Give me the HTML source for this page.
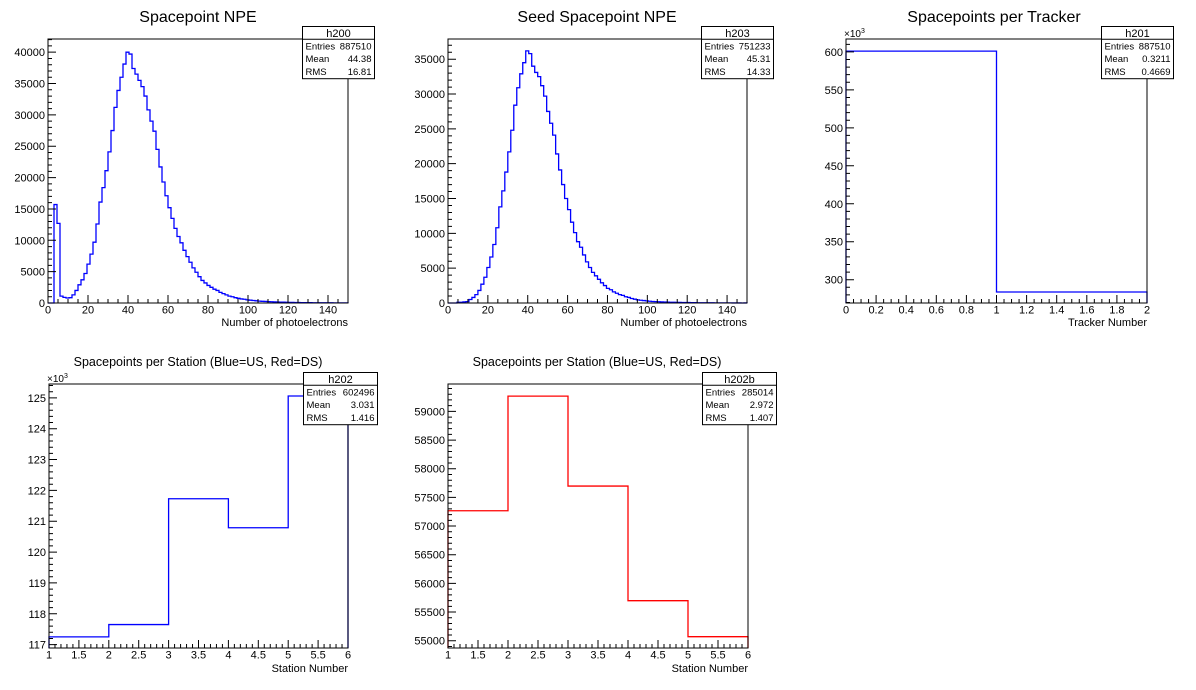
<!DOCTYPE html>
<html><head><meta charset="utf-8">
<style>
html,body{margin:0;padding:0;background:#fff;}
svg{display:block;font-family:"Liberation Sans",Arial,sans-serif;}
</style></head>
<body>
<svg id="c" width="1196" height="690" viewBox="0 0 1196 690" xmlns="http://www.w3.org/2000/svg"></svg>
<script>
// ---- data ----
const npeCounts = [0,0,15700,12700,1100,900,800,850,1300,2000,2900,3700,4700,6200,7800,9700,12600,16100,18400,21100,24100,27500,31200,33900,36000,38100,40000,39700,37400,36500,35500,34500,33000,30800,29000,27400,24500,21700,19300,17100,15200,13500,11900,10600,9600,8400,7400,6500,5600,4900,4200,3600,3200,2800,2500,2200,2000,1700,1500,1300,1100,1000,850,750,650,600,500,450,400,350,300,270,250,220,200,180,160,140,130,110,100,90,80,70,60,60,50,50,40,40,40,30,30,30,30,20,20,20,20,20];
const seedNpeCounts = [0,0,0,100,100,150,200,500,800,1200,1800,2700,3700,5100,6600,8400,10800,13800,16100,18800,21700,24800,28400,30900,32900,34500,36200,35800,34000,33100,32500,31200,29700,27500,25800,24100,21400,19100,17000,15000,13400,11600,10100,8800,8000,6900,5900,5100,4400,3900,3400,2900,2500,2100,1900,1600,1400,1200,1100,900,800,650,550,450,400,350,300,250,220,200,180,160,140,120,110,100,90,80,70,60,60,50,50,40,40,40,30,30,30,20,20,20,20,20,20,10,10,10,0,10];
const trackerCounts = [601000,283800];
const stationUSCounts = [117250,117650,121730,120790,125060];
const stationDSCounts = [57267,59267,57698,55698,55070];
const npeXTicks = ["0","20","40","60","80","100","120","140"];
const npeYTicks = ["0","5000","10000","15000","20000","25000","30000","35000","40000"];
const seedYTicks = ["0","5000","10000","15000","20000","25000","30000","35000"];
const trackerXTicks = ["0","0.2","0.4","0.6","0.8","1","1.2","1.4","1.6","1.8","2"];
const trackerYTicks = ["300","350","400","450","500","550","600"];
const stationXTicks = ["1","1.5","2","2.5","3","3.5","4","4.5","5","5.5","6"];
const usYTicks = ["117","118","119","120","121","122","123","124","125"];
const dsYTicks = ["55000","55500","56000","56500","57000","57500","58000","58500","59000"];

const NS="http://www.w3.org/2000/svg";
const svg=document.getElementById('c');
function mk(tag,attrs,parent,text){const e=document.createElementNS(NS,tag);for(const k in attrs)e.setAttribute(k,attrs[k]);if(text!==undefined)e.textContent=text;(parent||svg).appendChild(e);return e;}

function pad(p){
  const g=mk('g',{});
  
  
  const {x0,x1,y0,y1,xmin,xmax,ymin,ymax}=p;
  const X=v=>x0+(v-xmin)/(xmax-xmin)*(x1-x0);
  const Y=v=>y1-(v-ymin)/(ymax-ymin)*(y1-y0);
  // title
  const t=mk('text',{x:p.titleX,y:p.titleY,'font-size':p.titleSize,'text-anchor':'middle',fill:'#000'},g,p.title);
  
  
  // histogram
  let d='';
  const n=p.counts.length, bw=(p.hxmax-p.hxmin)/n;
  for(let i=0;i<n;i++){
    const xa=X(p.hxmin+i*bw), xb=X(p.hxmin+(i+1)*bw), yv=Y(Math.max(ymin,Math.min(ymax,p.counts[i])));
    d+=(i===0?('M'+xa+','+y1+' L'+xa+','+yv):(' L'+xa+','+yv))+' L'+xb+','+yv;
  }
  d+=' L'+X(p.hxmax)+','+y1;
  const h=mk('path',{d:d,fill:'none',stroke:p.color,'stroke-width':1.3},g);
  
  
  // frame
  const f=mk('rect',{x:x0,y:y0,width:x1-x0,height:y1-y0,fill:'none',stroke:'#000','stroke-width':1},g);
  
  
  // x ticks
  let td='';
  for(let v=p.xMinorStart;v<=xmax+1e-9;v+=p.xMinor){
    const isMaj=Math.abs(((v-p.xMajorStart)/p.xMajor)-Math.round((v-p.xMajorStart)/p.xMajor))<1e-6;
    const xx=X(v);td+='M'+xx+','+y1+' L'+xx+','+(y1-(isMaj?8:4))+' ';
  }
  for(let v=p.yMinorStart;v<=ymax+1e-9;v+=p.yMinor){
    if(v<ymin-1e-9)continue;
    const isMaj=Math.abs(((v-p.yMajorStart)/p.yMajor)-Math.round((v-p.yMajorStart)/p.yMajor))<1e-6;
    const yy=Y(v);td+='M'+x0+','+yy+' L'+(x0+(isMaj?8:4))+','+yy+' ';
  }
  mk('path',{d:td,stroke:'#000','stroke-width':1,fill:'none'},g);
  p.xTicks.forEach((s,i)=>{
    const e=mk('text',{x:X(p.xMajorStart+i*p.xMajor),y:y1+10.5,'font-size':11,'text-anchor':'middle'},g,s);
    
    
  });
  p.yTicks.forEach((s,i)=>{
    const e=mk('text',{x:x0-3,y:Y(p.yMajorStart+i*p.yMajor)+4,'font-size':11,'text-anchor':'end'},g,s);
    
    
  });
  const xt=mk('text',{x:x1,y:p.xTitleY,'font-size':11,'text-anchor':'end'},g,p.xTitle);
  
  
  if(p.exp){
    const ex=mk('text',{x:x0-2,y:y0-2,'font-size':10},g);
    
    
    mk('tspan',{},ex,'×10');
    mk('tspan',{'font-size':7,dy:-4},ex,'3');
  }
  // stats box
  const sb=mk('g',{},g);
  
  
  const bx=p.sx,by=p.sy,bwid=p.sw,rh=12.8;
  mk('rect',{x:bx,y:by,width:bwid,height:rh*4+1,fill:'#fff',stroke:'#000','stroke-width':1},sb);
  mk('line',{x1:bx,y1:by+rh,x2:bx+bwid,y2:by+rh,stroke:'#000','stroke-width':1},sb);
  mk('text',{x:bx+bwid/2,y:by+10.5,'font-size':11,'text-anchor':'middle'},sb,p.stats[0]);
  const lab=['Entries','Mean','RMS'];
  for(let i=0;i<3;i++){
    mk('text',{x:bx+3,y:by+rh*(i+1)+10,'font-size':9.5},sb,lab[i]);
    mk('text',{x:bx+bwid-3,y:by+rh*(i+1)+10,'font-size':9.5,'text-anchor':'end'},sb,p.stats[i+1]);
  }
}

pad({name:'spacepoint-npe-pad',title:'Spacepoint NPE',titleX:198,titleY:22,titleSize:16,
  x0:48,x1:348,y0:39,y1:303,xmin:0,xmax:150,ymin:0,ymax:42100,hxmin:0,hxmax:150,counts:npeCounts,color:'#0000ff',
  xMajor:20,xMajorStart:0,xMinor:5,xMinorStart:0,yMajor:5000,yMajorStart:0,yMinor:1000,yMinorStart:0,
  xTicks:npeXTicks,yTicks:npeYTicks,xTitle:'Number of photoelectrons',xTitleY:326,
  sx:302.5,sy:26.5,sw:72,stats:['h200','887510','44.38','16.81']});

pad({name:'seed-spacepoint-npe-pad',title:'Seed Spacepoint NPE',titleX:597,titleY:22,titleSize:16,
  x0:448,x1:747,y0:39,y1:303,xmin:0,xmax:150,ymin:0,ymax:37900,hxmin:0,hxmax:150,counts:seedNpeCounts,color:'#0000ff',
  xMajor:20,xMajorStart:0,xMinor:5,xMinorStart:0,yMajor:5000,yMajorStart:0,yMinor:1000,yMinorStart:0,
  xTicks:npeXTicks,yTicks:seedYTicks,xTitle:'Number of photoelectrons',xTitleY:326,
  sx:701.5,sy:26.5,sw:72,stats:['h203','751233','45.31','14.33']});

pad({name:'spacepoints-per-tracker-pad',title:'Spacepoints per Tracker',titleX:994,titleY:22,titleSize:16,
  x0:846,x1:1147,y0:39,y1:303,xmin:0,xmax:2,ymin:269300,ymax:617000,hxmin:0,hxmax:2,counts:trackerCounts,color:'#0000ff',
  xMajor:0.2,xMajorStart:0,xMinor:0.05,xMinorStart:0,yMajor:50000,yMajorStart:300000,yMinor:10000,yMinorStart:270000,
  xTicks:trackerXTicks,yTicks:trackerYTicks,xTitle:'Tracker Number',xTitleY:326,exp:true,
  sx:1101.5,sy:26.5,sw:72,stats:['h201','887510','0.3211','0.4669']});

pad({name:'spacepoints-per-station-us-pad',title:'Spacepoints per Station (Blue=US, Red=DS)',titleX:198,titleY:366,titleSize:12.5,
  x0:49,x1:348,y0:384,y1:648,xmin:1,xmax:6,ymin:116890,ymax:125450,hxmin:1,hxmax:6,counts:stationUSCounts,color:'#0000ff',
  xMajor:0.5,xMajorStart:1,xMinor:0.1,xMinorStart:1,yMajor:1000,yMajorStart:117000,yMinor:200,yMinorStart:116800,
  xTicks:stationXTicks,yTicks:usYTicks,xTitle:'Station Number',xTitleY:672,exp:true,
  sx:303.5,sy:372.5,sw:74,stats:['h202','602496','3.031','1.416']});

pad({name:'spacepoints-per-station-ds-pad',title:'Spacepoints per Station (Blue=US, Red=DS)',titleX:597,titleY:366,titleSize:12.5,
  x0:448,x1:748,y0:384,y1:648,xmin:1,xmax:6,ymin:54873,ymax:59478,hxmin:1,hxmax:6,counts:stationDSCounts,color:'#ff0000',
  xMajor:0.5,xMajorStart:1,xMinor:0.1,xMinorStart:1,yMajor:500,yMajorStart:55000,yMinor:100,yMinorStart:54900,
  xTicks:stationXTicks,yTicks:dsYTicks,xTitle:'Station Number',xTitleY:672,
  sx:702.5,sy:372.5,sw:74,stats:['h202b','285014','2.972','1.407']});
</script>
</body></html>
